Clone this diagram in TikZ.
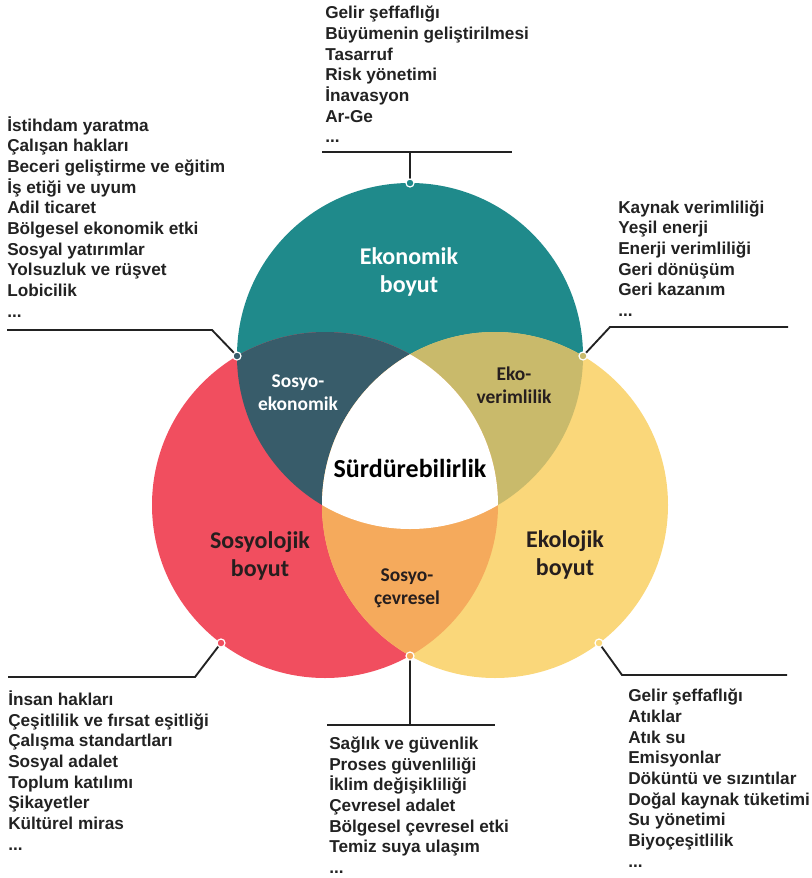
\documentclass[tikz,border=0pt]{standalone}
\usepackage{fontspec}
\setmainfont{Liberation Sans}
\newfontfamily\calibrifont{Carlito}
\usepackage{tikz}
\usetikzlibrary{positioning}

\definecolor{ekoteal}{RGB}{31,138,139}
\definecolor{sosred}{RGB}{241,78,95}
\definecolor{ekoyellow}{RGB}{250,215,122}
\definecolor{sosekon}{RGB}{56,92,106}
\definecolor{ekoverim}{RGB}{201,186,107}
\definecolor{soscevre}{RGB}{245,170,92}
\definecolor{ruleblack}{RGB}{34,34,34}
\definecolor{darklabel}{RGB}{38,30,30}

\begin{document}
\begin{tikzpicture}[x=0.75pt,y=0.75pt,yscale=-1,xscale=1,
    itemlist/.style={anchor=base west,align=left,inner sep=0pt,text=ruleblack,
        font=\bfseries\fontsize{12.9}{15.5}\selectfont},
    ruleline/.style={draw=ruleblack,line width=1.4pt},
    dotring/.style={draw=white,line width=0.9pt},
    biglabel/.style={align=center,font=\calibrifont\bfseries\fontsize{18}{21}\selectfont},
    smalllabel/.style={align=center,font=\calibrifont\bfseries\fontsize{14.6}{17.5}\selectfont}]
        \useasboundingbox (0,0) rectangle (811,878);

        %Shape: Circle (ekonomik)
        \fill [color=ekoteal] (410,356) circle (173);
        %Shape: Circle (sosyolojik)
        \fill [color=sosred] (325,505) circle (173);
        %Shape: Circle (ekolojik)
        \fill [color=ekoyellow] (495,505) circle (173);

        %Overlaps with the top circle
        \begin{scope}
        \clip (410,356) circle (173);
        \fill [color=sosekon] (325,505) circle (173);
        \fill [color=ekoverim] (495,505) circle (173);
        \end{scope}
        %Overlap of the lower circles, and the middle
        \begin{scope}
        \clip (325,505) circle (173);
        \fill [color=soscevre] (495,505) circle (173);
        \clip (410,356) circle (173);
        \fill [color=white] (495,505) circle (173);
        \end{scope}

        %Points on the circles
        \coordinate (ekoDot) at (410,183);
        \coordinate (sekDot) at (237,356);
        \coordinate (verDot) at (583,356);
        \coordinate (sosDot) at (221,643);
        \coordinate (cevDot) at (410,656);
        \coordinate (ekolDot) at (599,643);

        %Rule ends
        \coordinate (ekoL) at (322,152);
        \coordinate (ekoR) at (512,152);
        \coordinate (ekoJ) at (410,152);
        \coordinate (sekL) at (7,330);
        \coordinate (sekK) at (212,330);
        \coordinate (verK) at (610,327);
        \coordinate (verR) at (788,327);
        \coordinate (sosL) at (8,677);
        \coordinate (sosK) at (195,677);
        \coordinate (cevL) at (327,725);
        \coordinate (cevR) at (495,725);
        \coordinate (cevJ) at (410,725);
        \coordinate (ekolK) at (622,675);
        \coordinate (ekolR) at (787,675);

        %Straight Lines
        \draw [ruleline] (ekoL) -- (ekoR) ;
        \draw [ruleline] (ekoJ) -- (ekoDot) ;
        %Straight Lines
        \draw [ruleline] (sekL) -- (sekK) -- (sekDot) ;
        %Straight Lines
        \draw [ruleline] (verDot) -- (verK) -- (verR) ;
        %Straight Lines
        \draw [ruleline] (sosDot) -- (sosK) -- (sosL) ;
        %Straight Lines
        \draw [ruleline] (cevL) -- (cevR) ;
        \draw [ruleline] (cevJ) -- (cevDot) ;
        %Straight Lines
        \draw [ruleline] (ekolDot) -- (ekolK) -- (ekolR) ;

        %Shape: Circle (small rings)
        \draw [dotring,fill=ekoteal] (ekoDot) circle (4);
        \draw [dotring,fill=sosekon] (sekDot) circle (4);
        \draw [dotring,fill=ekoverim] (verDot) circle (4);
        \draw [dotring,fill=sosred] (sosDot) circle (4);
        \draw [dotring,fill=soscevre] (cevDot) circle (4);
        \draw [dotring,fill=ekoyellow] (ekolDot) circle (4);

        % Text Node
        \draw (409,272) node [biglabel,text=white] (ekonomik) {Ekonomik\\boyut};
        % Text Node
        \draw (298,393) node [smalllabel,text=white] (sosyoEkon) {Sosyo-\\ekonomik};
        % Text Node
        \draw (514,385) node [smalllabel,text=darklabel] (ekoVerim) {Eko-\\verimlilik};
        % Text Node
        \draw (410,468) node [biglabel,text=black,font=\calibrifont\bfseries\fontsize{19.5}{22}\selectfont] (surdur) {Sürdürebilirlik};
        % Text Node
        \draw (260,556) node [biglabel,text=darklabel] (sosyolojik) {Sosyolojik\\boyut};
        % Text Node
        \draw (565,555) node [biglabel,text=darklabel] (ekolojik) {Ekolojik\\boyut};
        % Text Node
        \draw (407,588) node [smalllabel,text=darklabel] (sosyoCevre) {Sosyo-\\çevresel};

        % Text Node
        \draw (325,142.7) node [itemlist] (ekoList) {Gelir şeffaflığı\\Büyümenin geliştirilmesi\\Tasarruf\\Risk yönetimi\\İnavasyon\\Ar-Ge\\...};
        % Text Node
        \draw (7,317) node [itemlist] (sekList) {İstihdam yaratma\\Çalışan hakları\\Beceri geliştirme ve eğitim\\İş etiği ve uyum\\Adil ticaret\\Bölgesel ekonomik etki\\Sosyal yatırımlar\\Yolsuzluk ve rüşvet\\Lobicilik\\...};
        % Text Node
        \draw (618,316.5) node [itemlist] (verList) {Kaynak verimliliği\\Yeşil enerji\\Enerji verimliliği\\Geri dönüşüm\\Geri kazanım\\...};
        % Text Node
        \draw (8,850) node [itemlist] (sosList) {İnsan hakları\\Çeşitlilik ve fırsat eşitliği\\Çalışma standartları\\Sosyal adalet\\Toplum katılımı\\Şikayetler\\Kültürel miras\\...};
        % Text Node
        \draw (329,873.5) node [itemlist] (cevList) {Sağlık ve güvenlik\\Proses güvenliliği\\İklim değişikliliği\\Çevresel adalet\\Bölgesel çevresel etki\\Temiz suya ulaşım\\...};
        % Text Node
        \draw (628,867) node [itemlist] (ekolList) {Gelir şeffaflığı\\Atıklar\\Atık su\\Emisyonlar\\Döküntü ve sızıntılar\\Doğal kaynak tüketimi\\Su yönetimi\\Biyoçeşitlilik\\...};
\end{tikzpicture}
\end{document}
